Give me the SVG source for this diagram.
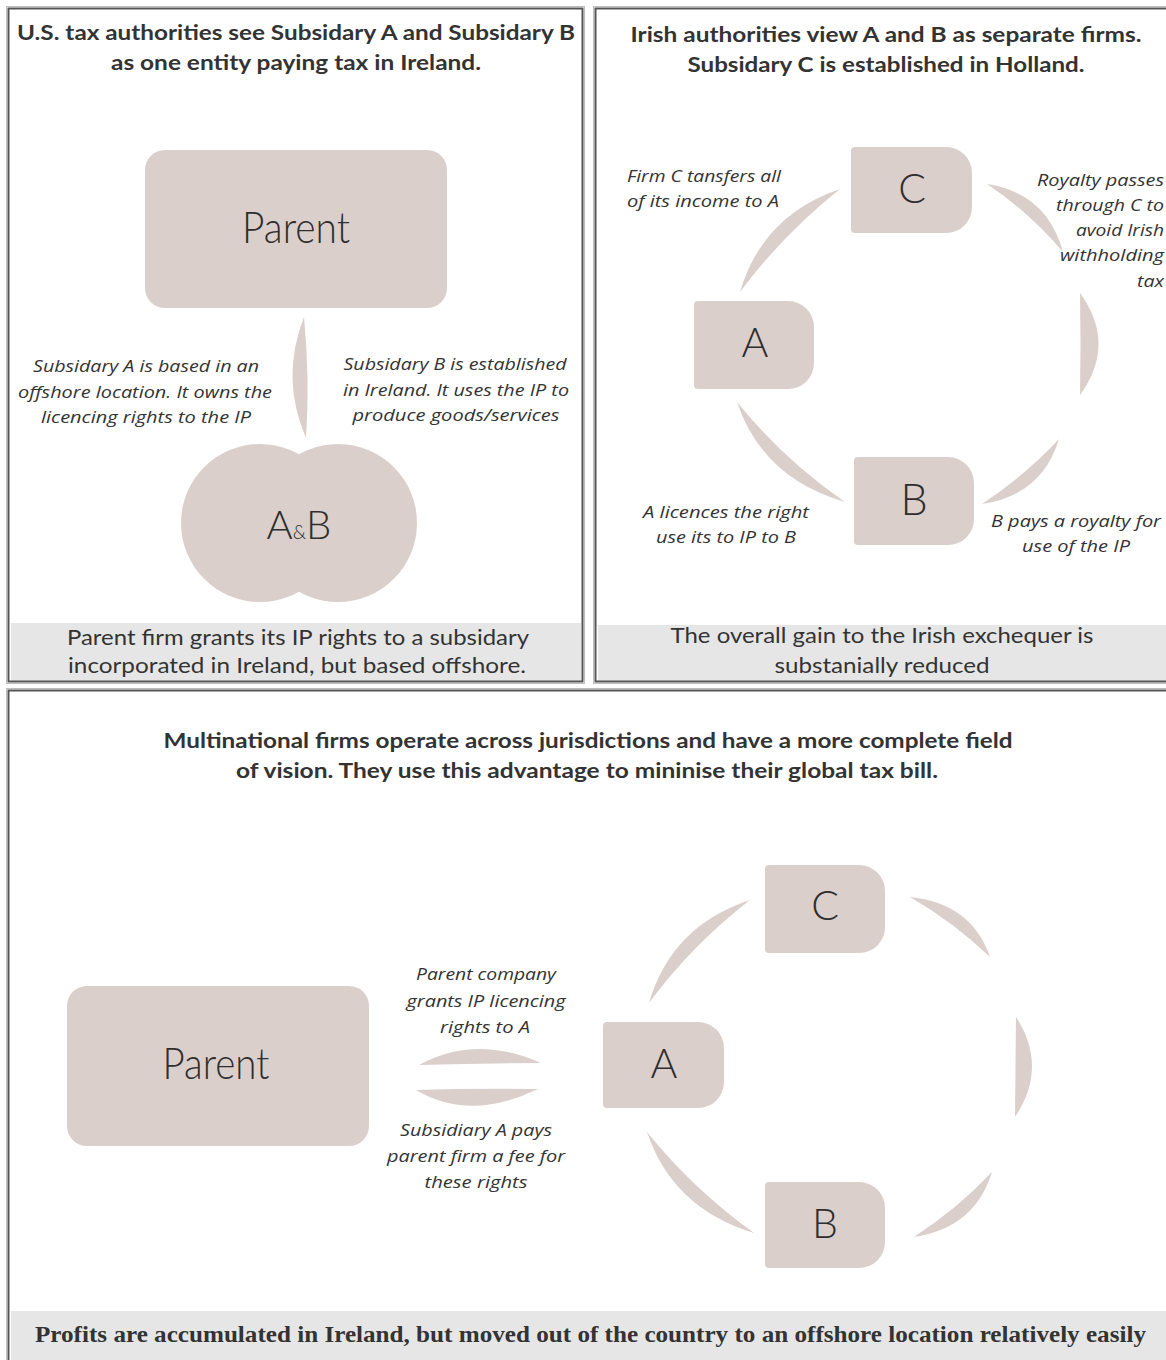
<svg xmlns="http://www.w3.org/2000/svg" width="1166" height="1360" viewBox="0 0 1166 1360">
<style>
.panel{fill:none;stroke:#555;stroke-width:2}
.shadow{fill:none;stroke:#bdbdbd;stroke-width:1}
.band{fill:#e6e6e6}
.node{fill:#dbcfcc}
.lens{fill:#dbcfcc}
.title{font-family:Lato,"Liberation Sans",sans-serif;font-weight:700;font-size:21px;fill:#333;text-anchor:middle}
.foot{font-family:Lato,"Liberation Sans",sans-serif;font-weight:400;font-size:21px;fill:#333;text-anchor:middle}
.note{font-family:"Open Sans","Liberation Sans",sans-serif;font-style:italic;font-size:16px;fill:#333;text-anchor:middle}
.noteR{font-family:"Open Sans","Liberation Sans",sans-serif;font-style:italic;font-size:16px;fill:#333;text-anchor:end}
.big{font-family:Lato,"Liberation Sans",sans-serif;font-weight:300;fill:#2e2e2e;text-anchor:middle}
.serif{font-family:"Liberation Serif",serif;font-weight:700;font-size:24px;fill:#333}
</style>
<rect width="1166" height="1360" fill="#fff"/>

<!-- panels -->
<g id="panels">
  <rect class="band" x="11" y="623" width="570" height="58"/>
  <rect class="band" x="598" y="625" width="568" height="56"/>
  <rect class="band" x="11" y="1311" width="1155" height="49"/>
  <rect class="shadow" x="6.5" y="6.5" width="578" height="677"/>
  <rect class="panel" x="8.5" y="8.5" width="574" height="673"/>
  <rect class="shadow" x="593.5" y="6.5" width="580" height="677"/>
  <rect class="panel" x="595.5" y="8.5" width="576" height="673"/>
  <rect class="shadow" x="6.5" y="688.5" width="1170" height="680"/>
  <rect class="panel" x="8.5" y="690.5" width="1166" height="680"/>
</g>

<!-- connectors -->
<g id="connectors">
  <path class="lens" d="M304,317 Q280,378 306,438 Q310,378 304,317 Z"/>
  <path class="lens" d="M840,189 Q762.4,215.5 740,292 Q783.1,234.3 840,189 Z"/>
  <path class="lens" d="M987,184 Q1046.9,193.1 1063,252 Q1029.1,212.1 987,184 Z"/>
  <path class="lens" d="M1080,293 Q1117,344 1080,395 Q1081,344 1080,293 Z"/>
  <path class="lens" d="M737,402 Q762.8,478.5 845,502 Q783.2,459.3 737,402 Z"/>
  <path class="lens" d="M982,504 Q1042.1,495.1 1059,439 Q1024.5,475.9 982,504 Z"/>
  <path class="lens" d="M419,1065 Q475,1034 541,1063 Q480,1063 419,1065 Z"/>
  <path class="lens" d="M416,1090 Q470,1122 538,1089 Q475,1088 416,1090 Z"/>
  <path class="lens" d="M649,1003 Q671.5,925.8 750,900 Q692.1,944.7 649,1003 Z"/>
  <path class="lens" d="M910,897 Q971.3,903.1 990,957 Q954,922.5 910,897 Z"/>
  <path class="lens" d="M1016,1017 Q1048.5,1067 1015,1117 Q1015.5,1067 1016,1017 Z"/>
  <path class="lens" d="M647,1132 Q672.6,1208.3 754,1233 Q693.2,1189.3 647,1132 Z"/>
  <path class="lens" d="M914,1237 Q974.8,1227.9 992,1172 Q957.1,1208.9 914,1237 Z"/>
</g>

<!-- panel 1 -->
<g id="title1">
  <text class="title" x="296" y="40" textLength="558" lengthAdjust="spacingAndGlyphs">U.S. tax authorities see Subsidary A and Subsidary B</text>
  <text class="title" x="296" y="70" textLength="370" lengthAdjust="spacingAndGlyphs">as one entity paying tax in Ireland.</text>
</g>
<g id="parent1">
  <rect class="node" x="145" y="150" width="302" height="158" rx="20"/>
  <text class="big" x="296" y="243" font-size="44" textLength="108" lengthAdjust="spacingAndGlyphs">Parent</text>
</g>
<g id="ab">
  <circle class="node" cx="260" cy="523" r="79"/>
  <circle class="node" cx="338" cy="523" r="79"/>
  <text class="big" x="299" y="539" font-size="40">A<tspan font-size="19">&amp;</tspan>B</text>
</g>
<g id="note1a">
  <text class="note" x="146" y="372" textLength="226" lengthAdjust="spacingAndGlyphs">Subsidary A is based in an</text>
  <text class="note" x="145" y="398" textLength="254" lengthAdjust="spacingAndGlyphs">offshore location. It owns the</text>
  <text class="note" x="146" y="423" textLength="210" lengthAdjust="spacingAndGlyphs">licencing rights to the IP</text>
</g>
<g id="note1b">
  <text class="note" x="455" y="370" textLength="223" lengthAdjust="spacingAndGlyphs">Subsidary B is established</text>
  <text class="note" x="456" y="396" textLength="226" lengthAdjust="spacingAndGlyphs">in Ireland. It uses the IP to</text>
  <text class="note" x="456" y="421" textLength="207" lengthAdjust="spacingAndGlyphs">produce goods/services</text>
</g>
<g id="foot1">
  <text class="foot" x="298" y="645" textLength="462" lengthAdjust="spacingAndGlyphs">Parent firm grants its IP rights to a subsidary</text>
  <text class="foot" x="297" y="673" textLength="458" lengthAdjust="spacingAndGlyphs">incorporated in Ireland, but based offshore.</text>
</g>

<!-- panel 2 -->
<g id="title2">
  <text class="title" x="886" y="42" textLength="511" lengthAdjust="spacingAndGlyphs">Irish authorities view A and B as separate firms.</text>
  <text class="title" x="886" y="72" textLength="397" lengthAdjust="spacingAndGlyphs">Subsidary C is established in Holland.</text>
</g>
<g id="c2">
  <path class="node" d="M855,147 H946 A26,26 0 0 1 972,173 V207 A26,26 0 0 1 946,233 H855 Q851,233 851,229 V151 Q851,147 855,147 Z"/>
  <text class="big" x="912" y="203" font-size="41">C</text>
</g>
<g id="a2">
  <path class="node" d="M698,301 H788 A26,26 0 0 1 814,327 V363 A26,26 0 0 1 788,389 H698 Q694,389 694,385 V305 Q694,301 698,301 Z"/>
  <text class="big" x="755" y="357" font-size="41">A</text>
</g>
<g id="b2">
  <path class="node" d="M858,457 H948 A26,26 0 0 1 974,483 V519 A26,26 0 0 1 948,545 H858 Q854,545 854,541 V461 Q854,457 858,457 Z"/>
  <text class="big" x="914" y="515" font-size="43">B</text>
</g>
<g id="note2c">
  <text class="note" x="704" y="182" textLength="154" lengthAdjust="spacingAndGlyphs">Firm C tansfers all</text>
  <text class="note" x="703" y="207" textLength="152" lengthAdjust="spacingAndGlyphs">of its income to A</text>
</g>
<g id="note2r">
  <text class="noteR" x="1164" y="186" textLength="127" lengthAdjust="spacingAndGlyphs">Royalty passes</text>
  <text class="noteR" x="1164" y="211" textLength="108" lengthAdjust="spacingAndGlyphs">through C to</text>
  <text class="noteR" x="1164" y="236" textLength="88" lengthAdjust="spacingAndGlyphs">avoid Irish</text>
  <text class="noteR" x="1164" y="261" textLength="104" lengthAdjust="spacingAndGlyphs">withholding</text>
  <text class="noteR" x="1164" y="287" textLength="27" lengthAdjust="spacingAndGlyphs">tax</text>
</g>
<g id="note2ab">
  <text class="note" x="726" y="518" textLength="166" lengthAdjust="spacingAndGlyphs">A licences the right</text>
  <text class="note" x="726" y="543" textLength="140" lengthAdjust="spacingAndGlyphs">use its to IP to B</text>
</g>
<g id="note2b">
  <text class="note" x="1076" y="527" textLength="170" lengthAdjust="spacingAndGlyphs">B pays a royalty for</text>
  <text class="note" x="1076" y="552" textLength="108" lengthAdjust="spacingAndGlyphs">use of the IP</text>
</g>
<g id="foot2">
  <text class="foot" x="882" y="643" textLength="423" lengthAdjust="spacingAndGlyphs">The overall gain to the Irish exchequer is</text>
  <text class="foot" x="882" y="673" textLength="215" lengthAdjust="spacingAndGlyphs">substanially reduced</text>
</g>

<!-- panel 3 -->
<g id="title3">
  <text class="title" x="588" y="748" textLength="849" lengthAdjust="spacingAndGlyphs">Multinational firms operate across jurisdictions and have a more complete field</text>
  <text class="title" x="587" y="778" textLength="702" lengthAdjust="spacingAndGlyphs">of vision. They use this advantage to mininise their global tax bill.</text>
</g>
<g id="parent3">
  <rect class="node" x="67" y="986" width="302" height="160" rx="20"/>
  <text class="big" x="216" y="1079" font-size="44" textLength="107" lengthAdjust="spacingAndGlyphs">Parent</text>
</g>
<g id="c3">
  <path class="node" d="M769,865 H859 A26,26 0 0 1 885,891 V927 A26,26 0 0 1 859,953 H769 Q765,953 765,949 V869 Q765,865 769,865 Z"/>
  <text class="big" x="825" y="920" font-size="41">C</text>
</g>
<g id="a3">
  <path class="node" d="M607,1022 H698 A26,26 0 0 1 724,1048 V1082 A26,26 0 0 1 698,1108 H607 Q603,1108 603,1104 V1026 Q603,1022 607,1022 Z"/>
  <text class="big" x="664" y="1078" font-size="41">A</text>
</g>
<g id="b3">
  <path class="node" d="M769,1182 H859 A26,26 0 0 1 885,1208 V1242 A26,26 0 0 1 859,1268 H769 Q765,1268 765,1264 V1186 Q765,1182 769,1182 Z"/>
  <text class="big" x="825" y="1238" font-size="41">B</text>
</g>
<g id="note3a">
  <text class="note" x="486" y="980" textLength="140" lengthAdjust="spacingAndGlyphs">Parent company</text>
  <text class="note" x="486" y="1007" textLength="159" lengthAdjust="spacingAndGlyphs">grants IP licencing</text>
  <text class="note" x="485" y="1033" textLength="90" lengthAdjust="spacingAndGlyphs">rights to A</text>
</g>
<g id="note3b">
  <text class="note" x="476" y="1136" textLength="152" lengthAdjust="spacingAndGlyphs">Subsidiary A pays</text>
  <text class="note" x="476" y="1162" textLength="178" lengthAdjust="spacingAndGlyphs">parent firm a fee for</text>
  <text class="note" x="476" y="1188" textLength="103" lengthAdjust="spacingAndGlyphs">these rights</text>
</g>
<g id="foot3">
  <text class="serif" x="35" y="1342" textLength="1111" lengthAdjust="spacingAndGlyphs">Profits are accumulated in Ireland, but moved out of the country to an offshore location relatively easily</text>
</g>
</svg>
